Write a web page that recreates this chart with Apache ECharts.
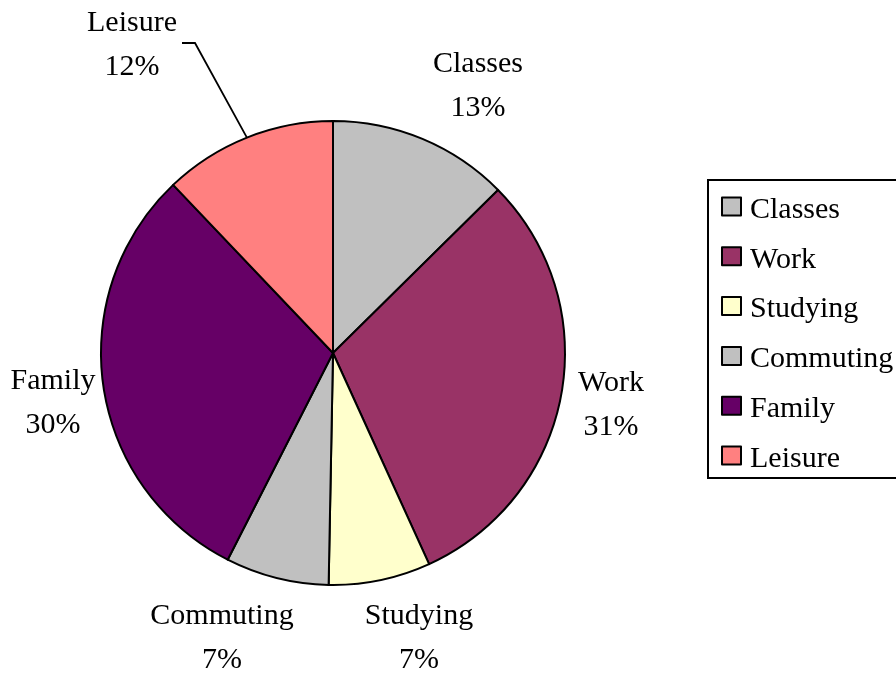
<!DOCTYPE html>
<html>
<head>
<meta charset="utf-8">
<script src="https://cdn.jsdelivr.net/npm/echarts@6/dist/echarts.min.js"></script>
<style>
html,body{margin:0;padding:0;background:#fff;}
#chart{width:896px;height:675px;}
</style>
</head>
<body>
<div id="chart"></div>
<script>
// Data (percent of time)
var categories = ['Classes', 'Work', 'Studying', 'Commuting', 'Family', 'Leisure'];
var values = [12.6, 30.6, 7.1, 7.2, 30.4, 12.1];
var colors = ['#C0C0C0', '#993366', '#FFFFCC', '#C0C0C0', '#660066', '#FF8080'];

// Layout
var CX = 333, CY = 353, R = 232;
// label block centres relative to the pie centre (Excel-style placement)
var labelOffsets = [[145, -267], [278, 52], [86, 285], [-111, 285], [-280, 50], [-201, -308]];
var leaderBend = [-138, -310];
var leaderEnd = [-151, -310];

var FONT = 'Liberation Serif, Times New Roman, serif';

var data = categories.map(function (c, i) {
  var item = { name: c, value: values[i], itemStyle: { color: colors[i] } };
  if (c === 'Leisure') {
    item.labelLine = { show: true, lineStyle: { color: '#000', width: 1.8 } };
  }
  return item;
});

var chart = echarts.init(document.getElementById('chart'), null, { renderer: 'canvas' });
chart.setOption({
  backgroundColor: '#fff',
  animation: false,
  legend: {
    orient: 'vertical',
    left: 708,
    top: 180,
    data: categories,
    itemWidth: 19,
    itemHeight: 18,
    itemGap: 12.8,
    padding: [8, 30, 4, 13],
    borderColor: '#000',
    borderWidth: 2,
    icon: 'rect',
    selectedMode: false,
    itemStyle: { borderColor: '#000', borderWidth: 2 },
    formatter: function (name) { return '{t|' + name + '}'; },
    textStyle: {
      fontFamily: FONT, fontSize: 30, color: '#000', lineHeight: 30,
      rich: { t: { fontFamily: FONT, fontSize: 30, color: '#000', lineHeight: 30, padding: [7, 0, 0, 4] } }
    }
  },
  series: [{
    type: 'pie',
    center: [CX, CY],
    radius: R,
    startAngle: 90,
    clockwise: true,
    avoidLabelOverlap: false,
    percentPrecision: 0,
    silent: true,
    emphasis: { disabled: true },
    itemStyle: { borderColor: '#000', borderWidth: 2 },
    label: {
      show: true,
      position: 'outside',
      formatter: '{b}\n{d}%',
      fontFamily: FONT,
      fontSize: 30,
      lineHeight: 44,
      color: '#000'
    },
    labelLine: { show: false },
    labelLayout: function (params) {
      var i = params.dataIndex;
      var res = {
        x: CX + labelOffsets[i][0],
        y: CY + labelOffsets[i][1],
        align: 'center',
        verticalAlign: 'middle'
      };
      if (categories[i] === 'Leisure' && params.labelLinePoints) {
        res.labelLinePoints = [
          params.labelLinePoints[0],
          [CX + leaderBend[0], CY + leaderBend[1]],
          [CX + leaderEnd[0], CY + leaderEnd[1]]
        ];
      }
      return res;
    },
    data: data
  }]
});
</script>
</body>
</html>
